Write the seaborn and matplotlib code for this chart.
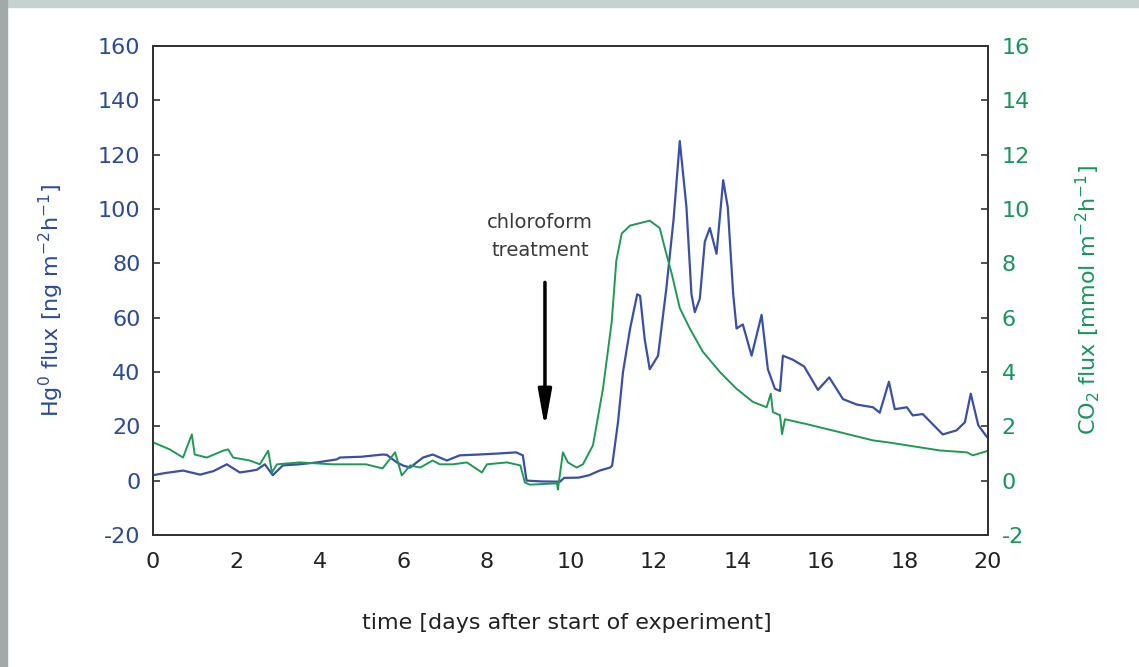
import numpy as np
import pandas as pd
import seaborn as sns
import matplotlib.pyplot as plt
from matplotlib.patches import Rectangle

# Hg0 flux (left axis)
hg_day = [0.0, 0.3, 0.72, 1.13, 1.45, 1.77, 2.08, 2.3, 2.49, 2.68, 2.87, 3.11, 3.5,
          3.93, 4.4, 4.48, 5.0, 5.5, 5.6, 5.84, 6.0, 6.16, 6.3, 6.47, 6.7, 7.04,
          7.35, 7.8, 8.3, 8.7, 8.86, 8.95, 9.3, 9.75, 9.85, 10.2, 10.45, 10.7,
          10.95, 11.0, 11.14, 11.26, 11.43, 11.6, 11.67, 11.78, 11.9, 12.1, 12.3,
          12.47, 12.62, 12.78, 12.9, 12.98, 13.1, 13.22, 13.34, 13.5, 13.66,
          13.77, 13.9, 13.98, 14.13, 14.34, 14.58, 14.73, 14.9, 15.02, 15.09,
          15.33, 15.6, 15.93, 16.2, 16.53, 16.86, 17.25, 17.41, 17.63, 17.77,
          18.06, 18.2, 18.44, 18.92, 19.25, 19.45, 19.59, 19.77, 19.98]
hg_flux = [2.0, 2.8, 3.7, 2.2, 3.5, 6.0, 3.0, 3.5, 4.0, 6.0, 2.0, 5.6, 6.0,
           6.7, 7.8, 8.5, 8.8, 9.6, 9.5, 6.7, 5.5, 4.8, 6.5, 8.5, 9.6, 7.4,
           9.3, 9.6, 10.0, 10.4, 9.3, 0.0, -0.3, -0.4, 1.0, 1.1, 2.0, 3.7,
           4.8, 5.5, 21.5, 40.0, 56.0, 68.6, 68.0, 52.0, 41.0, 46.0, 71.0,
           96.0, 125.0, 100.6, 68.6, 62.0, 67.0, 88.0, 93.0, 83.5, 110.6,
           100.6, 68.6, 56.0, 57.5, 46.0, 61.0, 41.0, 33.8, 33.0, 46.0,
           44.5, 42.0, 33.4, 38.0, 30.0, 28.0, 27.0, 25.0, 36.4, 26.3,
           27.0, 24.0, 24.5, 17.0, 18.5, 21.5, 32.0, 20.4, 16.0]

# CO2 flux (right axis)
co2_day = [0.0, 0.4, 0.72, 0.93, 1.0, 1.29, 1.68, 1.8, 1.92, 2.32, 2.56, 2.76,
           2.85, 2.97, 3.52, 4.3, 5.1, 5.5, 5.8, 5.96, 6.16, 6.4, 6.7, 6.87,
           7.19, 7.52, 7.88, 8.0, 8.48, 8.8, 8.91, 9.03, 9.68, 9.7, 9.82, 9.94,
           10.15, 10.3, 10.54, 10.78, 10.99, 11.1, 11.23, 11.43, 11.9, 12.14,
           12.26, 12.43, 12.62, 12.86, 13.17, 13.58, 13.98, 14.37, 14.7, 14.8,
           14.85, 15.02, 15.07, 15.14, 15.66, 16.46, 17.25, 17.6, 18.06, 18.85,
           19.5, 19.64, 19.88, 20.0]
co2_flux = [1.41, 1.15, 0.85, 1.7, 0.96, 0.85, 1.1, 1.15, 0.85, 0.74, 0.6, 1.1,
            0.3, 0.6, 0.67, 0.6, 0.6, 0.45, 1.04, 0.19, 0.56, 0.48, 0.74, 0.6,
            0.6, 0.67, 0.3, 0.6, 0.67, 0.56, -0.07, -0.15, -0.1, -0.33, 1.04,
            0.67, 0.48, 0.6, 1.3, 3.38, 5.86, 8.1, 9.1, 9.39, 9.57, 9.3,
            8.57, 7.6, 6.35, 5.6, 4.75, 4.0, 3.38, 2.9, 2.7, 3.2,
            2.52, 2.41, 1.71, 2.26, 2.08, 1.78, 1.48, 1.41, 1.3, 1.11,
            1.04, 0.93, 1.04, 1.1]

hg_df = pd.DataFrame({"day": hg_day, "flux": hg_flux})
co2_df = pd.DataFrame({"day": co2_day, "flux": co2_flux})

blue = "#3a4fa8"
green = "#1e9a55"
blue_txt = "#2c4a9c"
green_txt = "#17955a"

sns.set_style("white")
plt.rcParams["font.family"] = ["DejaVu Sans"]
plt.rcParams["axes.unicode_minus"] = False

fig = plt.figure(figsize=(11.39, 6.67), dpi=100)
ax = fig.add_axes([0.1343, 0.198, 0.733, 0.733])
ax2 = ax.twinx()

sns.lineplot(data=hg_df, x="day", y="flux", ax=ax, color=blue, lw=1.6)
sns.lineplot(data=co2_df, x="day", y="flux", ax=ax2, color=green, lw=1.4)

ax.set_xlim(0, 20)
ax.set_ylim(-20, 160)
ax2.set_ylim(-2, 16)
ax.set_xticks(range(0, 21, 2))
ax.set_yticks(range(-20, 161, 20))
ax2.set_yticks(range(-2, 17, 2))

for a in (ax, ax2):
    for s in a.spines.values():
        s.set_color("#333333")
        s.set_linewidth(1.4)
ax.tick_params(axis="x", direction="in", length=5, width=1.2, color="#333333",
               labelsize=16, labelcolor="#222222", pad=12, top=False)
ax.tick_params(axis="y", direction="in", length=5, width=1.2, color="#333333",
               labelsize=16, labelcolor=blue_txt, pad=9, right=False)
ax2.tick_params(axis="y", direction="in", length=5, width=1.2, color="#333333",
                labelsize=16, labelcolor=green_txt, pad=10)

ax.set_xlabel("time [days after start of experiment]", fontsize=16, color="#222222")
ax.set_ylabel(r"Hg$^{0}$ flux [ng m$^{-2}$h$^{-1}$]", fontsize=16, color=blue_txt)
ax2.set_ylabel(r"CO$_{2}$ flux [mmol m$^{-2}$h$^{-1}$]", fontsize=16, color=green_txt)
ax.xaxis.set_label_coords(0.496, -0.16)
ax.yaxis.set_label_coords(-0.104, 0.48)
ax2.yaxis.set_label_coords(1.102, 0.48)

ax.text(9.27, 90, "chloroform\ntreatment", ha="center", va="center",
        fontsize=14, color="#3a3a3a", linespacing=1.6)
ax.annotate("", xy=(9.39, 18.5), xytext=(9.39, 74),
            arrowprops=dict(arrowstyle="-|>,head_length=2.2,head_width=0.4",
                            color="black", lw=2.5))

# frame bands on top and left
fig.patches.append(Rectangle((0, 0.99), 1, 0.01, transform=fig.transFigure,
                             color="#c5d3d0", zorder=-1))
fig.patches.append(Rectangle((0, 0), 0.006, 1, transform=fig.transFigure,
                             color="#a3a9a8", zorder=-1))

fig.savefig("out.png", dpi=100)
